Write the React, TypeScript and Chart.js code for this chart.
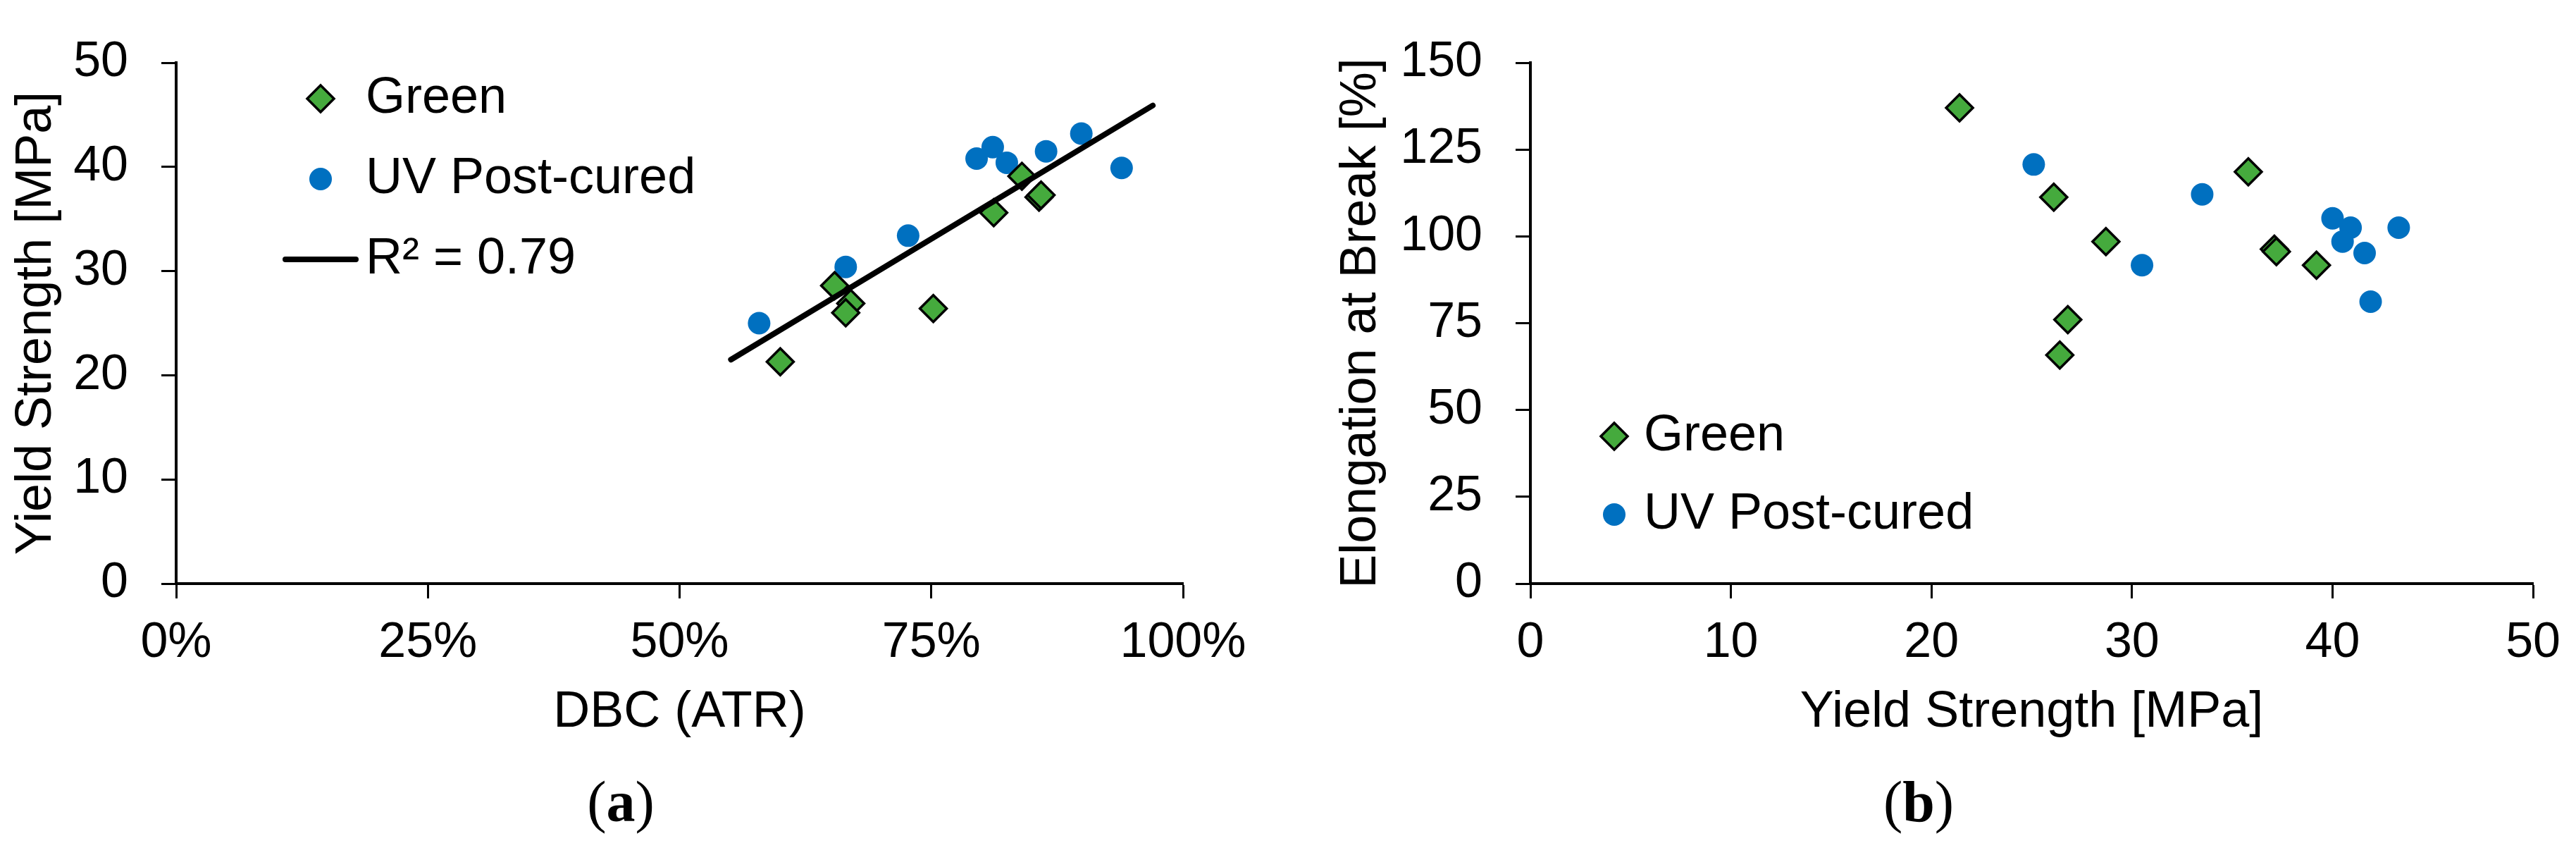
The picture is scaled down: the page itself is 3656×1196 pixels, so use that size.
import { useEffect, useRef } from 'react';
import { Chart, registerables } from 'chart.js';
import { drawPoint } from 'chart.js/helpers';

Chart.register(...registerables);

// (a) yield strength against degree of cure (DBC, ATR)
const greenDbc = [60.0, 65.4, 67.0, 66.5, 75.2, 81.2, 84.0, 85.7, 85.9];
const greenYieldA = [21.3, 28.6, 26.9, 26.0, 26.4, 35.6, 39.1, 37.1, 37.3];
const uvDbc = [57.9, 66.5, 72.7, 79.5, 81.1, 82.5, 86.4, 89.9, 93.9];
const uvYieldA = [25.0, 30.4, 33.4, 40.8, 41.9, 40.4, 41.5, 43.2, 39.9];
const trendDbc = [55.1, 97.0];
const trendYield = [21.5, 45.9];

// (b) elongation at break against yield strength
const greenYieldB = [21.4, 26.1, 28.7, 26.8, 26.4, 35.8, 37.1, 37.2, 39.2];
const greenElong = [137.0, 111.3, 98.5, 76.0, 65.8, 118.6, 96.3, 95.6, 91.7];
const uvYieldB = [25.1, 33.5, 30.5, 40.0, 40.9, 40.5, 41.6, 43.3, 41.9];
const uvElong = [120.7, 112.1, 91.7, 105.2, 102.5, 98.5, 95.2, 102.5, 81.2];

const dbcTicks = [0, 25, 50, 75, 100];
const yieldTicks = [0, 10, 20, 30, 40, 50];
const elongTicks = [0, 25, 50, 75, 100, 125, 150];

const SANS = "'Liberation Sans', Arial, sans-serif";
const GREEN = '#45AA3D';
const BLUE = '#0070C0';

const pairs = (xs: number[], ys: number[]) => xs.map((x, i) => ({ x, y: ys[i] }));

// legend drawn inside the plot, like the Excel original
const insideLegend = {
  id: 'insideLegend',
  afterDraw(chart: any, _args: any, opts: any) {
    const { ctx } = chart;
    ctx.save();
    ctx.font = `72px ${SANS}`;
    ctx.textBaseline = 'middle';
    ctx.textAlign = 'left';
    chart.data.datasets.forEach((ds: any, i: number) => {
      const y = opts.top + i * opts.rowGap;
      const cx = opts.left + opts.sampleWidth / 2;
      if (ds.showLine) {
        ctx.strokeStyle = ds.borderColor;
        ctx.lineWidth = ds.borderWidth;
        ctx.lineCap = 'round';
        ctx.beginPath();
        ctx.moveTo(opts.left, y);
        ctx.lineTo(opts.left + opts.sampleWidth, y);
        ctx.stroke();
      } else {
        ctx.fillStyle = ds.backgroundColor;
        ctx.strokeStyle = ds.borderColor;
        ctx.lineWidth = ds.borderWidth;
        drawPoint(ctx, { pointStyle: ds.pointStyle, radius: ds.pointRadius, borderWidth: ds.borderWidth, rotation: 0 }, cx, y);
      }
      ctx.fillStyle = '#000';
      ctx.fillText(ds.label, opts.left + opts.sampleWidth + opts.textGap, y);
    });
    ctx.restore();
  },
};

function axis(ticks: number[], title: string, isX: boolean, extra: any) {
  return {
    type: 'linear',
    position: isX ? 'bottom' : 'left',
    min: ticks[0],
    max: ticks[ticks.length - 1],
    grid: { drawOnChartArea: false, drawTicks: true, tickLength: 21, tickWidth: 3, tickColor: '#000' },
    border: { display: true, color: '#000', width: 4 },
    ticks: {
      stepSize: ticks[1] - ticks[0],
      color: '#000',
      font: { family: SANS, size: 70 },
      padding: isX ? 22 : 47,
      maxRotation: 0,
      callback: extra.format || ((v: number) => `${v}`),
    },
    title: {
      display: true,
      text: title,
      color: '#000',
      font: { family: SANS, size: 72 },
      padding: extra.titlePadding,
    },
    afterFit: (scale: any) => {
      if (isX) scale.height = extra.size;
      else scale.width = extra.size;
    },
  };
}

const greenStyle = {
  pointStyle: 'rectRot',
  pointRadius: 19,
  backgroundColor: GREEN,
  borderColor: '#000',
  borderWidth: 3.5,
};
const blueStyle = {
  pointStyle: 'circle',
  pointRadius: 16,
  backgroundColor: BLUE,
  borderColor: BLUE,
  borderWidth: 0,
};

function Panel({ config, style }: { config: any; style: any }) {
  const canvasRef = useRef<HTMLCanvasElement>(null);

  useEffect(() => {
    if (!canvasRef.current) return;
    const chart = new Chart(canvasRef.current, config);
    return () => chart.destroy();
  }, [config]);

  return (
    <canvas
      ref={canvasRef}
      width={style.width}
      height={style.height}
      style={{ position: 'absolute', ...style }}
    />
  );
}

const configA: any = {
  type: 'scatter',
  data: {
    datasets: [
      { label: 'Green', data: pairs(greenDbc, greenYieldA), order: 1, ...greenStyle },
      { label: 'UV Post-cured', data: pairs(uvDbc, uvYieldA), order: 2, ...blueStyle },
      {
        label: 'R² = 0.79',
        data: pairs(trendDbc, trendYield),
        showLine: true,
        borderColor: '#000',
        borderWidth: 8,
        borderCapStyle: 'round',
        pointRadius: 0,
        order: 0,
      },
    ],
  },
  options: {
    responsive: false,
    animation: false,
    layout: { padding: { top: 45, right: 121, bottom: 0, left: 0 } },
    scales: {
      x: axis(dbcTicks, 'DBC (ATR)', true, {
        size: 262,
        titlePadding: { top: 0, bottom: 36 },
        format: (v: number) => `${v}%`,
      }),
      y: axis(yieldTicks, 'Yield Strength [MPa]', false, {
        size: 250,
        titlePadding: { top: 9, bottom: 0 },
      }),
    },
    plugins: {
      legend: { display: false },
      tooltip: { enabled: false },
      insideLegend: { left: 405, top: 140, rowGap: 114, sampleWidth: 100, textGap: 14 },
    },
  },
  plugins: [insideLegend],
};

const configB: any = {
  type: 'scatter',
  data: {
    datasets: [
      { label: 'Green', data: pairs(greenYieldB, greenElong), order: 1, ...greenStyle },
      { label: 'UV Post-cured', data: pairs(uvYieldB, uvElong), order: 2, ...blueStyle },
    ],
  },
  options: {
    responsive: false,
    animation: false,
    layout: { padding: { top: 44, right: 45, bottom: 0, left: 0 } },
    scales: {
      x: axis(yieldTicks, 'Yield Strength [MPa]', true, {
        size: 262,
        titlePadding: { top: 0, bottom: 36 },
      }),
      y: axis(elongTicks, 'Elongation at Break [%]', false, {
        size: 372,
        titlePadding: { top: 89, bottom: 0 },
      }),
    },
    plugins: {
      legend: { display: false },
      tooltip: { enabled: false },
      insideLegend: { left: 463, top: 619, rowGap: 111, sampleWidth: 56, textGap: 14 },
    },
  },
  plugins: [insideLegend],
};

const captionStyle: any = {
  position: 'absolute',
  top: 1138,
  transform: 'translate(-50%, -50%)',
  fontFamily: "'Liberation Serif', 'Times New Roman', serif",
  fontSize: 82,
  lineHeight: 1,
  color: '#000',
  whiteSpace: 'nowrap',
};

export default function App() {
  return (
    <div
      style={{
        position: 'absolute',
        left: 0,
        top: 0,
        width: 3656,
        height: 1196,
        overflow: 'hidden',
        background: '#fff',
      }}
    >
      <Panel config={configA} style={{ left: 0, top: 0, width: 1800, height: 1090 }} />
      <Panel config={configB} style={{ left: 1800, top: 0, width: 1856, height: 1090 }} />
      <div style={{ ...captionStyle, left: 881 }}>
        (<b>a</b>)
      </div>
      <div style={{ ...captionStyle, left: 2723 }}>
        (<b>b</b>)
      </div>
    </div>
  );
}
